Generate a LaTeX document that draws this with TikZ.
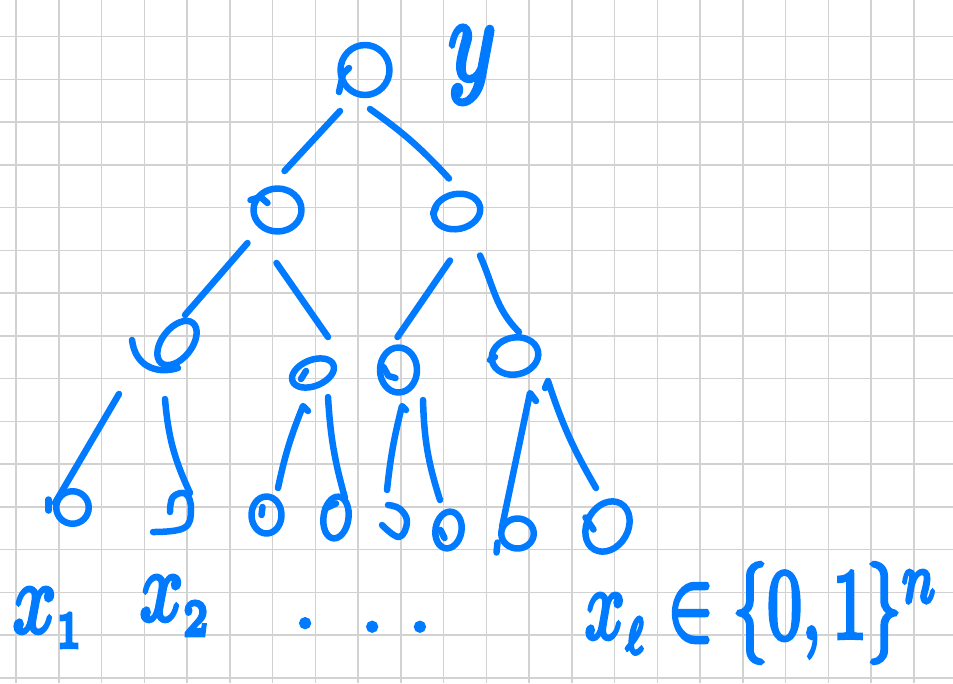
\documentclass[tikz,border=0pt]{standalone}
\usetikzlibrary{shapes.geometric}
\definecolor{ink}{RGB}{0,122,255}
\definecolor{gridc}{RGB}{210,210,210}
\newcommand\penink[1]{\special{pdf:literal direct 2 Tr 0.45 w}#1\special{pdf:literal direct 0 Tr}}
\tikzset{
  stroke/.style={draw=ink, line width=6.5pt, line cap=round, line join=round},
  nd/.style={ellipse, stroke, inner sep=0pt, outer sep=0pt},
  ghost/.style={inner sep=0pt, outer sep=0pt, minimum size=1pt},
  edge/.style={stroke},
  lbl/.style={text=ink, inner sep=0pt, outer sep=0pt},
  gridline/.style={draw=gridc, line width=1.5pt},
}
\begin{document}
\begin{tikzpicture}[x=1pt, y=-1pt]
\useasboundingbox[fill=white] (0,0) rectangle (953,683);
\foreach \k in {0,...,21} \draw[gridline] ({16+42.75*\k},0) -- ({16+42.75*\k},683);
\foreach \k in {0,...,15} \draw[gridline] (0,{36.7+42.75*\k}) -- (953,{36.7+42.75*\k});

% nodes
\node[nd, minimum width=49pt, minimum height=50pt] (r) at (365,70) {};
\node[nd, minimum width=48pt, minimum height=43pt] (a) at (277.5,210) {};
\node[nd, minimum width=47pt, minimum height=35pt, rotate=12] (b) at (457,211.5) {};
\node[nd, minimum width=51pt, minimum height=30pt, rotate=52] (A) at (177,343) {};
\node[nd, minimum width=44pt, minimum height=26pt, rotate=22] (B) at (313,373) {};
\node[nd, minimum width=37pt, minimum height=45pt] (C) at (398.5,370) {};
\node[nd, minimum width=47pt, minimum height=37pt, rotate=12] (D) at (515,356) {};
\node[nd, minimum width=32.5pt, minimum height=32.5pt] (l1) at (72.5,507.5) {};
\node[ghost] (l2) at (175,513) {};
\node[nd, minimum width=30pt, minimum height=37pt] (l3) at (266.5,515) {};
\node[nd, minimum width=25pt, minimum height=42pt, rotate=-8] (l4) at (336,517.5) {};
\node[ghost] (l5) at (395,520) {};
\node[nd, minimum width=26pt, minimum height=37pt, rotate=-10] (l6) at (448.5,530) {};
\node[nd, minimum width=32.5pt, minimum height=30pt] (l7) at (517.5,533.5) {};
\node[nd, minimum width=53pt, minimum height=41pt, rotate=60] (l8) at (607.5,526.5) {};

% open leaves
\draw[stroke, shift={(l2.center)}] plot[smooth, tension=0.7] coordinates {(-5,-1) (-2,-16) (11,-19) (16,-3) (9,15) (-22,19)};
\draw[stroke, shift={(l5.center)}] plot[smooth, tension=0.7] coordinates {(-7,-15) (5,-11) (12,2) (4,17) (-13,5)};

% small pen details
\draw[stroke, shift={(r.center)}] (-26,22) -- (-22,4) -- (-16,-2);
\draw[stroke, shift={(a.center)}] (-27,-10) -- (-17,-13) -- (-10,-7);
\draw[stroke, shift={(b.center)}] (-24,2) -- (-21,-4);
\draw[stroke, shift={(A.center)}] (-45,-3) .. controls (-42,22) and (-22,32) .. (1,25);
\draw[stroke, shift={(B.center)}] (-12,6) -- (-7,-2);
\draw[stroke, shift={(C.center)}] (-15,-3) -- (-10,6) -- (-3,8);
\draw[stroke, shift={(D.center)}] (-25,4) -- (-20,1);
\draw[stroke, shift={(l1.center)}] (-24,-8) -- (-24,3);
\draw[stroke, shift={(l3.center)}] (-5,0) -- (-4,-8);
\draw[stroke, shift={(l4.center)}] (-11,-9) -- (0,-14);
\draw[stroke, shift={(l6.center)}] (-8,0) -- (-4,8);
\draw[stroke, shift={(l7.center)}] (-20,9) -- (-21,19);
\draw[stroke, shift={(l8.center)}] (-22,-9) -- (-14,3);

% connectors
\draw[edge] ([shift={(-25,41)}]r.center) -- ([shift={(7,-39)}]a.center);
\draw[edge] ([shift={(5,39)}]r.center) to[bend left=6] ([shift={(-8,-33)}]b.center);
\draw[edge] ([shift={(-30,33)}]a.center) -- ([shift={(8,-28)}]A.center);
\draw[edge] ([shift={(-1,53)}]a.center) -- ([shift={(15,-36)}]B.center);
\draw[edge] ([shift={(-7,49)}]b.center) -- ([shift={(-1,-33)}]C.center);
\draw[edge] ([shift={(23,44)}]b.center) to[out=-66,in=135] ([shift={(4,-24)}]D.center);
\draw[edge] ([shift={(-58,51)}]A.center) -- ([shift={(-17.5,-4.5)}]l1.center);
\draw[edge] ([shift={(-12,56)}]A.center) to[bend right=10] ([shift={(15,-20)}]l2.center);
\draw[edge] ([shift={(-5,38)}]B.center) -- ([shift={(-10,33)}]B.center) to[bend right=5] ([shift={(11.5,-27)}]l3.center);
\draw[edge] ([shift={(15,24)}]B.center) to[bend right=6] ([shift={(9,-19.5)}]l4.center);
\draw[edge] ([shift={(7.5,40)}]C.center) -- ([shift={(3.5,36)}]C.center) to[bend right=4] ([shift={(-8,-30)}]l5.center);
\draw[edge] ([shift={(24.5,30)}]C.center) to[bend right=8] ([shift={(-8.5,-30)}]l6.center);
\draw[edge] ([shift={(21,45)}]D.center) -- ([shift={(15,37)}]D.center) -- ([shift={(-15.5,-6.5)}]l7.center);
\draw[edge] ([shift={(30,32)}]D.center) -- ([shift={(33,25)}]D.center) to[bend right=6] ([shift={(-11.5,-38.5)}]l8.center);

% labels
\node[lbl, xscale=9, yscale=12] (ylab) at (472,65) {\penink{$y$}};
\node[lbl, xscale=7.5, yscale=10, anchor=base west] (x1) at (13,632) {\penink{$x_{\scriptscriptstyle 1}$}};
\node[lbl, xscale=7.5, yscale=10, anchor=base west] (x2) at (140,620) {\penink{$x_{\scriptscriptstyle 2}$}};
\node[lbl, scale=8, anchor=base west] (dots) at (294,631) {\penink{\raisebox{0.45pt}{.}\hspace{5.6pt}.\hspace{3.2pt}.}};
\node[lbl, xscale=6.9, yscale=10, anchor=base west] (xl) at (585,638) {\penink{$x_{\scriptscriptstyle\ell}\in\{0,1\}^{n}$}};
\end{tikzpicture}
\end{document}
